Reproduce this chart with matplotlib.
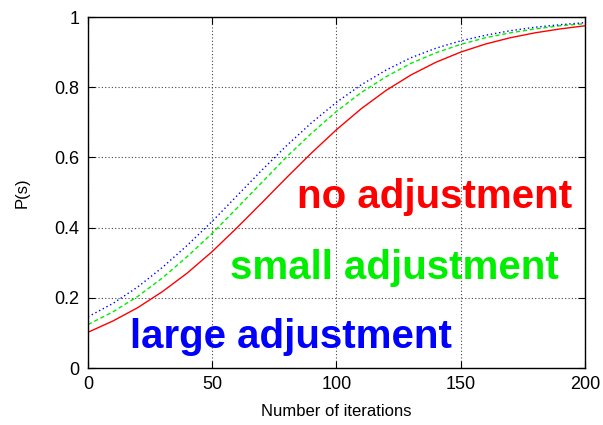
import matplotlib
matplotlib.use('Agg')
import matplotlib.pyplot as plt

plt.rcParams['font.family'] = ['Liberation Sans', 'DejaVu Sans']

# iterations sampled every 10 steps
iterations = [0, 10, 20, 30, 40, 50, 60, 70, 80, 90, 100,
              110, 120, 130, 140, 150, 160, 170, 180, 190, 200]

# P(s)
no_adjust = [0.102, 0.134, 0.172, 0.218, 0.271, 0.332, 0.400, 0.471, 0.543, 0.613, 0.679,
             0.739, 0.791, 0.835, 0.871, 0.900, 0.923, 0.941, 0.955, 0.966, 0.975]
small_adjust = [0.124, 0.160, 0.204, 0.257, 0.318, 0.384, 0.456, 0.529, 0.602, 0.669, 0.731,
                0.785, 0.830, 0.868, 0.898, 0.922, 0.941, 0.955, 0.966, 0.975, 0.981]
large_adjust = [0.146, 0.184, 0.231, 0.287, 0.350, 0.418, 0.491, 0.564, 0.634, 0.699, 0.757,
                0.807, 0.849, 0.884, 0.911, 0.932, 0.948, 0.961, 0.971, 0.978, 0.984]

fig = plt.figure(figsize=(6.03, 4.25), dpi=100)
ax = fig.add_axes([0.146, 0.134, 0.824, 0.826])

ax.plot(iterations, no_adjust, color='#ff0000', lw=1.0, ls='-')
ax.plot(iterations, small_adjust, color='#00ee00', lw=1.0, ls=(0, (3, 2)))
ax.plot(iterations, large_adjust, color='#0000ff', lw=1.0, ls=(0, (1, 2)))

ax.set_xlim(0, 200)
ax.set_ylim(0, 1)
ax.set_xticks([0, 50, 100, 150, 200])
ax.set_yticks([0, 0.2, 0.4, 0.6, 0.8, 1])
ax.set_yticklabels(['0', '0.2', '0.4', '0.6', '0.8', '1'])
ax.tick_params(direction='in', top=True, right=True, labelsize=13, length=5, pad=6)
ax.grid(True, color='#444444', ls=(0, (1, 2)), lw=0.8)
for s in ax.spines.values():
    s.set_linewidth(1.0)

ax.set_xlabel('Number of iterations', fontsize=12, labelpad=8)
ax.set_ylabel('P(s)', fontsize=12, labelpad=18)

ax.text(84, 0.487, 'no adjustment', color='#ff0000', fontsize=29, fontweight='bold',
        ha='left', va='center')
ax.text(57, 0.285, 'small adjustment', color='#00ee00', fontsize=29, fontweight='bold',
        ha='left', va='center')
ax.text(17, 0.088, 'large adjustment', color='#0000ff', fontsize=29, fontweight='bold',
        ha='left', va='center')

fig.savefig('out.png', dpi=100)
